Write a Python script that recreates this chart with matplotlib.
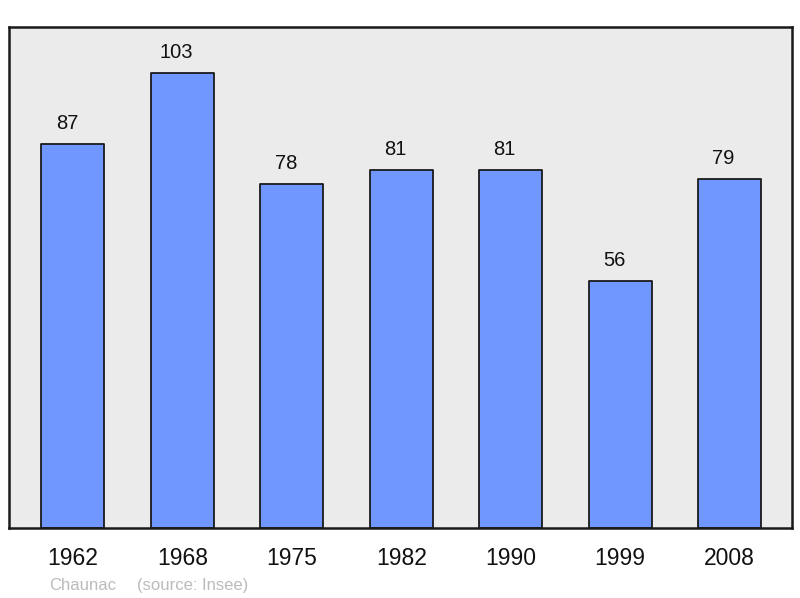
import matplotlib.pyplot as plt
import numpy as np

plt.rcParams['font.family'] = ['Liberation Sans', 'DejaVu Sans']

years = ['1962', '1968', '1975', '1982', '1990', '1999', '2008']
population = [87, 103, 78, 81, 81, 56, 79]
place = 'Chaunac'
source = '(source: Insee)'

W, H = 800, 598
fig = plt.figure(figsize=(W / 100, H / 100), dpi=100)
ax = fig.add_axes([9 / W, (H - 528) / H, 783 / W, 501 / H])
ax.set_facecolor('#ebebeb')

x = np.arange(len(years))
bars = ax.bar(x, population, width=0.575, color='#7096ff', edgecolor='#1a1a1a',
              linewidth=1.3, joinstyle='round')

# value labels sit a bit left of the bar centre, like in the original
for xi, v in zip(x, population):
    ax.annotate(str(v), (xi, v), xytext=(-4.3, 10.8), textcoords='offset points',
                ha='center', va='baseline', fontsize=14.5, color='#111111')

ax.set_xlim(-0.584, 6.571)
ax.set_ylim(0, 113.5)
ax.set_xticks(x)
ax.set_xticklabels(years, fontsize=16.5, color='#111111')
ax.tick_params(axis='x', length=0, pad=14)
ax.set_yticks([])
for s in ax.spines.values():
    s.set_linewidth(1.8)
    s.set_color('#1a1a1a')

fig.text(49 / W, 1 - 590 / H, place, fontsize=12, color='#bbbbbb', va='baseline')
fig.text(137 / W, 1 - 590 / H, source, fontsize=12, color='#bbbbbb', va='baseline')

fig.savefig('out.png', dpi=100, facecolor='white')
